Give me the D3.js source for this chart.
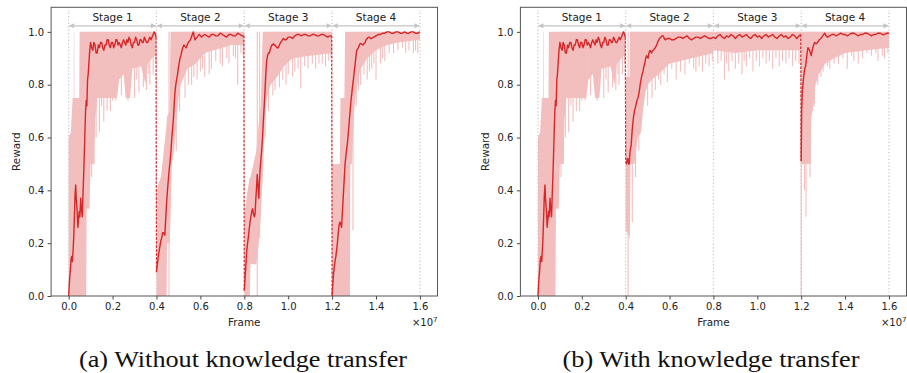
<!DOCTYPE html>
<html>
<head>
<meta charset="utf-8">
<script src="https://cdn.jsdelivr.net/npm/d3@7"></script>
<style>
  body { margin: 0; background: #fff; }
  svg { display: block; }
</style>
</head>
<body>
<svg id="fig" width="907" height="373"></svg>
<script>
// frames are in units of 1e7
const xTicks = [0, 0.2, 0.4, 0.6, 0.8, 1.0, 1.2, 1.4, 1.6];
const yTicks = [0, 0.2, 0.4, 0.6, 0.8, 1.0];
const stageBounds = [0, 0.4, 0.8, 1.2, 1.6];
const stageNames = ['Stage 1', 'Stage 2', 'Stage 3', 'Stage 4'];
const captions = ['(a) Without knowledge transfer', '(b) With knowledge transfer'];

// smoothed reward, stage 1 (same run in both panels)
const stage1Line = [[0.000,0.00],[0.004,0.06],[0.008,0.10],[0.011,0.14],[0.014,0.15],[0.017,0.13],[0.020,0.17],[0.023,0.22],[0.026,0.30],[0.029,0.38],[0.032,0.42],[0.035,0.36],[0.038,0.33],[0.042,0.26],[0.045,0.29],[0.048,0.32],[0.051,0.30],[0.055,0.37],[0.058,0.33],[0.062,0.30],[0.065,0.38],[0.068,0.45],[0.071,0.53],[0.074,0.62],[0.077,0.70],[0.080,0.74],[0.083,0.72],[0.086,0.82],[0.089,0.84],[0.092,0.88],[0.096,0.93],[0.100,0.96],[0.105,0.94],[0.110,0.93],[0.115,0.96],[0.120,0.95],[0.125,0.92],[0.130,0.92],[0.135,0.95],[0.140,0.94],[0.145,0.96],[0.150,0.96],[0.155,0.94],[0.160,0.93],[0.165,0.95],[0.170,0.95],[0.175,0.97],[0.180,0.97],[0.185,0.95],[0.190,0.94],[0.195,0.96],[0.200,0.96],[0.205,0.94],[0.210,0.95],[0.215,0.97],[0.220,0.97],[0.225,0.95],[0.230,0.96],[0.235,0.95],[0.240,0.94],[0.245,0.96],[0.250,0.97],[0.255,0.96],[0.260,0.95],[0.265,0.97],[0.270,0.96],[0.275,0.98],[0.280,0.97],[0.285,0.95],[0.290,0.94],[0.295,0.96],[0.300,0.96],[0.305,0.98],[0.310,0.97],[0.315,0.95],[0.320,0.95],[0.325,0.97],[0.330,0.97],[0.335,0.96],[0.340,0.96],[0.345,0.98],[0.350,0.97],[0.355,0.96],[0.360,0.96],[0.365,0.97],[0.370,0.98],[0.375,0.97],[0.380,0.98],[0.385,0.99],[0.390,1.00],[0.395,0.99],[0.398,0.98]];
const leftStage2Line = [[0.400,0.09],[0.404,0.12],[0.408,0.15],[0.412,0.17],[0.416,0.19],[0.420,0.21],[0.424,0.22],[0.428,0.24],[0.432,0.24],[0.438,0.23],[0.442,0.29],[0.446,0.35],[0.450,0.40],[0.454,0.44],[0.458,0.48],[0.461,0.50],[0.466,0.55],[0.470,0.60],[0.474,0.64],[0.477,0.67],[0.481,0.73],[0.484,0.77],[0.488,0.80],[0.492,0.82],[0.496,0.84],[0.499,0.86],[0.503,0.88],[0.507,0.90],[0.511,0.91],[0.515,0.925],[0.520,0.94],[0.525,0.95],[0.530,0.945],[0.535,0.94],[0.540,0.95],[0.545,0.96],[0.550,0.965],[0.555,0.97],[0.561,0.985],[0.568,1.00],[0.572,0.98],[0.576,0.97],[0.580,0.975],[0.585,0.98],[0.590,0.985],[0.595,0.99],[0.600,0.985],[0.605,0.98],[0.610,0.985],[0.620,0.99],[0.630,0.985],[0.640,0.98],[0.650,0.99],[0.660,0.99],[0.670,0.985],[0.680,0.985],[0.690,0.995],[0.700,0.99],[0.710,0.985],[0.720,0.98],[0.730,0.99],[0.740,0.99],[0.750,0.985],[0.760,0.985],[0.770,0.995],[0.780,0.99],[0.790,0.985],[0.798,0.985]];
const leftStage3Line = [[0.800,0.02],[0.803,0.06],[0.806,0.10],[0.809,0.14],[0.811,0.17],[0.815,0.20],[0.818,0.22],[0.822,0.25],[0.826,0.28],[0.830,0.30],[0.834,0.32],[0.838,0.33],[0.842,0.31],[0.846,0.30],[0.849,0.31],[0.852,0.36],[0.855,0.40],[0.859,0.46],[0.862,0.42],[0.866,0.37],[0.869,0.43],[0.872,0.48],[0.876,0.52],[0.879,0.55],[0.883,0.60],[0.886,0.65],[0.890,0.71],[0.894,0.77],[0.898,0.84],[0.902,0.89],[0.906,0.91],[0.910,0.92],[0.914,0.92],[0.917,0.93],[0.921,0.94],[0.925,0.95],[0.929,0.95],[0.932,0.955],[0.936,0.95],[0.940,0.95],[0.944,0.945],[0.948,0.94],[0.952,0.94],[0.955,0.94],[0.960,0.95],[0.965,0.96],[0.970,0.965],[0.978,0.975],[0.984,0.97],[0.990,0.97],[0.995,0.975],[1.000,0.98],[1.010,0.98],[1.020,0.975],[1.030,0.985],[1.040,0.99],[1.050,0.99],[1.060,0.985],[1.070,0.99],[1.080,0.99],[1.090,0.985],[1.100,0.985],[1.110,0.99],[1.120,0.99],[1.130,0.985],[1.140,0.985],[1.150,0.99],[1.160,0.99],[1.170,0.985],[1.180,0.98],[1.190,0.985],[1.198,0.985]];
const leftStage4Line = [[1.200,0.00],[1.203,0.04],[1.206,0.08],[1.210,0.11],[1.213,0.13],[1.217,0.15],[1.220,0.17],[1.224,0.20],[1.228,0.24],[1.232,0.27],[1.236,0.28],[1.240,0.27],[1.243,0.26],[1.247,0.32],[1.251,0.38],[1.255,0.44],[1.259,0.50],[1.264,0.54],[1.270,0.58],[1.276,0.64],[1.282,0.70],[1.286,0.74],[1.290,0.77],[1.294,0.80],[1.297,0.82],[1.301,0.85],[1.305,0.88],[1.309,0.91],[1.312,0.93],[1.316,0.935],[1.320,0.94],[1.324,0.95],[1.327,0.955],[1.333,0.955],[1.340,0.95],[1.345,0.955],[1.350,0.96],[1.355,0.97],[1.360,0.975],[1.365,0.98],[1.370,0.98],[1.375,0.975],[1.380,0.975],[1.390,0.98],[1.400,0.985],[1.410,0.99],[1.420,0.99],[1.430,0.995],[1.440,0.995],[1.450,1.00],[1.460,1.00],[1.470,0.995],[1.480,0.995],[1.490,1.00],[1.500,1.00],[1.510,0.995],[1.520,0.995],[1.530,1.00],[1.540,0.995],[1.550,0.995],[1.560,1.00],[1.570,1.00],[1.580,0.995],[1.590,0.995],[1.600,1.00]];
const rightStage2Line = [[0.400,0.51],[0.404,0.50],[0.407,0.52],[0.410,0.52],[0.413,0.50],[0.416,0.50],[0.420,0.55],[0.425,0.57],[0.428,0.61],[0.432,0.65],[0.436,0.68],[0.440,0.70],[0.446,0.72],[0.451,0.74],[0.456,0.75],[0.461,0.77],[0.466,0.80],[0.470,0.82],[0.475,0.84],[0.479,0.85],[0.483,0.87],[0.487,0.88],[0.491,0.90],[0.495,0.91],[0.499,0.905],[0.502,0.90],[0.506,0.92],[0.510,0.93],[0.514,0.925],[0.518,0.92],[0.522,0.93],[0.525,0.93],[0.530,0.935],[0.535,0.94],[0.541,0.95],[0.548,0.965],[0.554,0.975],[0.560,0.98],[0.566,0.985],[0.571,0.985],[0.576,0.975],[0.580,0.97],[0.590,0.975],[0.600,0.975],[0.610,0.97],[0.620,0.97],[0.630,0.975],[0.640,0.98],[0.650,0.98],[0.660,0.975],[0.670,0.98],[0.680,0.985],[0.690,0.975],[0.700,0.97],[0.710,0.975],[0.720,0.98],[0.730,0.98],[0.740,0.975],[0.750,0.98],[0.760,0.985],[0.770,0.98],[0.780,0.975],[0.790,0.975],[0.800,0.98]];
const rightStage3Line = [[0.80,0.98],[0.81,0.975],[0.82,0.985],[0.83,0.99],[0.84,0.98],[0.85,0.975],[0.86,0.985],[0.87,0.98],[0.88,0.99],[0.89,0.985],[0.90,0.975],[0.91,0.985],[0.92,0.99],[0.93,0.98],[0.94,0.985],[0.95,0.99],[0.96,0.98],[0.97,0.975],[0.98,0.985],[0.99,0.99],[1.00,0.98],[1.01,0.985],[1.02,0.975],[1.03,0.985],[1.04,0.99],[1.05,0.98],[1.06,0.985],[1.07,0.99],[1.08,0.98],[1.09,0.975],[1.10,0.985],[1.11,0.99],[1.12,0.98],[1.13,0.985],[1.14,0.975],[1.15,0.98],[1.16,0.99],[1.17,0.985],[1.18,0.975],[1.19,0.985],[1.198,0.99]];
const rightStage4Line = [[1.200,0.51],[1.202,0.70],[1.205,0.77],[1.210,0.82],[1.216,0.86],[1.220,0.87],[1.223,0.89],[1.227,0.92],[1.231,0.94],[1.235,0.935],[1.238,0.93],[1.242,0.92],[1.246,0.91],[1.250,0.93],[1.253,0.94],[1.257,0.95],[1.261,0.96],[1.268,0.955],[1.275,0.96],[1.282,0.97],[1.290,0.975],[1.298,0.985],[1.307,0.995],[1.313,0.985],[1.320,0.98],[1.330,0.985],[1.340,0.99],[1.350,0.99],[1.360,0.985],[1.370,0.99],[1.380,0.995],[1.390,0.99],[1.400,0.99],[1.410,0.985],[1.420,0.99],[1.430,0.995],[1.440,0.995],[1.450,0.99],[1.460,0.985],[1.470,0.99],[1.480,0.99],[1.490,0.995],[1.500,0.995],[1.510,0.99],[1.520,0.985],[1.530,0.99],[1.540,0.99],[1.550,0.995],[1.560,0.995],[1.570,0.99],[1.580,0.99],[1.590,0.995],[1.600,0.995]];

// raw-reward envelope per stage: [frame, low, high]
const stage1Band = [[0.000,0,0.60],[0.010,0,0.62],[0.018,0,0.75],[0.023,0,0.75],[0.0235,0,1.0],[0.0255,0,1.0],[0.026,0,0.75],[0.048,0,0.75],[0.050,0,1.0],[0.080,0,1.0],[0.082,0.33,1.0],[0.095,0.33,1.0],[0.100,0.50,1.0],[0.118,0.50,1.0],[0.120,0.66,1.0],[0.130,0.75,1.0],[0.220,0.75,1.0],[0.230,0.82,1.0],[0.250,0.84,1.0],[0.260,0.75,1.0],[0.280,0.75,1.0],[0.290,0.86,1.0],[0.330,0.87,1.0],[0.350,0.80,1.0],[0.360,0.88,1.0],[0.390,0.91,1.0],[0.400,0.90,1.0]];
const leftStage2Band = [[0.400,0,0.40],[0.420,0,0.45],[0.440,0,0.60],[0.446,0,0.65],[0.448,0.20,0.68],[0.460,0.20,0.70],[0.464,0.30,1.0],[0.470,0.50,1.0],[0.480,0.55,1.0],[0.490,0.65,1.0],[0.500,0.75,1.0],[0.510,0.80,1.0],[0.540,0.86,1.0],[0.580,0.88,1.0],[0.620,0.92,1.0],[0.660,0.93,1.0],[0.700,0.94,1.0],[0.740,0.95,1.0],[0.800,0.95,1.0]];
const leftStage3Band = [[0.800,0,0.30],[0.815,0,0.40],[0.825,0,0.45],[0.828,0.12,0.45],[0.855,0.12,0.55],[0.865,0.19,0.65],[0.875,0.30,0.72],[0.884,0.45,1.0],[0.887,0.51,1.0],[0.894,0.66,1.0],[0.902,0.75,1.0],[0.920,0.80,1.0],[0.950,0.83,1.0],[0.980,0.87,1.0],[1.020,0.90,1.0],[1.100,0.91,1.0],[1.200,0.92,1.0]];
const leftStage4Band = [[1.200,0,0.50],[1.235,0,0.50],[1.238,0,0.75],[1.256,0,0.75],[1.259,0,1.0],[1.281,0,1.0],[1.283,0.50,1.0],[1.290,0.50,1.0],[1.300,0.70,1.0],[1.310,0.78,1.0],[1.330,0.86,1.0],[1.360,0.90,1.0],[1.400,0.93,1.0],[1.450,0.95,1.0],[1.500,0.96,1.0],[1.600,0.97,1.0]];
const rightStage2Band = [[0.400,0.25,0.83],[0.418,0.22,0.83],[0.419,0.22,1.0],[0.422,0.50,1.0],[0.440,0.50,1.0],[0.455,0.60,1.0],[0.470,0.62,1.0],[0.480,0.71,1.0],[0.490,0.77,1.0],[0.500,0.80,1.0],[0.520,0.82,1.0],[0.550,0.84,1.0],[0.600,0.88,1.0],[0.650,0.89,1.0],[0.700,0.90,1.0],[0.750,0.91,1.0],[0.800,0.92,1.0]];
const rightStage3Band = [[0.800,0.93,1.0],[0.900,0.92,1.0],[1.000,0.93,1.0],[1.100,0.93,1.0],[1.200,0.93,1.0]];
const rightStage4Band = [[1.200,0.50,1.0],[1.243,0.50,1.0],[1.246,0.67,1.0],[1.260,0.75,1.0],[1.265,0.80,1.0],[1.280,0.84,1.0],[1.310,0.88,1.0],[1.350,0.90,1.0],[1.400,0.92,1.0],[1.500,0.93,1.0],[1.600,0.94,1.0]];

// single raw episodes dipping below the envelope: [frame, reward]
const stage1Spikes = [[0.105,0.45],[0.110,0.55],[0.125,0.60],[0.140,0.62],[0.150,0.72],[0.160,0.66],[0.175,0.70],[0.190,0.70],[0.200,0.74],[0.215,0.74],[0.240,0.76],[0.270,0.74],[0.300,0.75],[0.310,0.82],[0.320,0.77],[0.340,0.79],[0.355,0.78],[0.365,0.84],[0.370,0.80],[0.385,0.84],[0.395,0.88]];
const leftStage2Spikes = [[0.457,0.0],[0.490,0.55],[0.505,0.70],[0.530,0.75],[0.545,0.80],[0.560,0.80],[0.570,0.83],[0.585,0.82],[0.600,0.85],[0.610,0.86],[0.620,0.83],[0.640,0.84],[0.650,0.86],[0.670,0.89],[0.690,0.88],[0.700,0.87],[0.720,0.90],[0.730,0.88],[0.750,0.91],[0.760,0.90],[0.770,0.80],[0.785,0.92],[0.795,0.91]];
const leftStage3Spikes = [[0.859,0.0],[0.870,0.22],[0.895,0.60],[0.910,0.70],[0.930,0.76],[0.940,0.78],[0.960,0.79],[0.975,0.82],[0.990,0.80],[1.000,0.84],[1.020,0.83],[1.030,0.85],[1.045,0.86],[1.057,0.786],[1.075,0.87],[1.090,0.86],[1.110,0.88],[1.125,0.86],[1.140,0.88],[1.155,0.88],[1.170,0.87],[1.185,0.89],[1.195,0.90]];
const leftStage4Spikes = [[1.295,0.25],[1.310,0.72],[1.320,0.78],[1.330,0.80],[1.345,0.84],[1.360,0.82],[1.370,0.85],[1.380,0.86],[1.390,0.88],[1.400,0.82],[1.420,0.88],[1.430,0.90],[1.440,0.89],[1.460,0.92],[1.480,0.92],[1.500,0.93],[1.520,0.94],[1.535,0.92],[1.550,0.93],[1.570,0.92],[1.580,0.93],[1.590,0.92]];
const rightStage2Spikes = [[0.411,0.0],[0.430,0.28],[0.445,0.45],[0.460,0.55],[0.500,0.72],[0.520,0.75],[0.535,0.78],[0.550,0.82],[0.560,0.80],[0.575,0.84],[0.590,0.81],[0.610,0.86],[0.630,0.82],[0.650,0.85],[0.670,0.84],[0.690,0.88],[0.710,0.86],[0.720,0.85],[0.735,0.87],[0.750,0.85],[0.765,0.88],[0.780,0.87],[0.795,0.89]];
const rightStage3Spikes = [[0.820,0.88],[0.835,0.89],[0.850,0.82],[0.860,0.88],[0.870,0.85],[0.885,0.89],[0.900,0.86],[0.915,0.88],[0.930,0.84],[0.940,0.89],[0.950,0.87],[0.965,0.90],[0.980,0.85],[0.995,0.89],[1.010,0.87],[1.025,0.90],[1.040,0.88],[1.055,0.89],[1.070,0.86],[1.085,0.90],[1.100,0.87],[1.115,0.89],[1.130,0.88],[1.145,0.90],[1.160,0.87],[1.175,0.89],[1.190,0.88]];
const rightStage4Spikes = [[1.200,0.0],[1.215,0.40],[1.222,0.30],[1.232,0.50],[1.240,0.45],[1.250,0.70],[1.260,0.72],[1.275,0.80],[1.290,0.83],[1.300,0.85],[1.320,0.87],[1.330,0.86],[1.350,0.88],[1.370,0.88],[1.390,0.90],[1.410,0.86],[1.430,0.91],[1.440,0.89],[1.460,0.88],[1.480,0.90],[1.500,0.92],[1.520,0.91],[1.540,0.92],[1.550,0.89],[1.570,0.91],[1.580,0.90],[1.595,0.92]];

const RED = '#d62728';
const PINK = '#f3bebe';
const GRID = '#c4c4c4';
const FONT = '"DejaVu Sans", sans-serif';

const panels = [
  {
    left: 51.1, right: 437.5, caption: captions[0], capX: 243, capW: 328,
    lines: [stage1Line, leftStage2Line, leftStage3Line, leftStage4Line],
    bands: [stage1Band, leftStage2Band, leftStage3Band, leftStage4Band],
    spikes: [stage1Spikes, leftStage2Spikes, leftStage3Spikes, leftStage4Spikes]
  },
  {
    left: 520.4, right: 906.5, caption: captions[1], capX: 711, capW: 297,
    lines: [stage1Line, rightStage2Line, rightStage3Line, rightStage4Line],
    bands: [stage1Band, rightStage2Band, rightStage3Band, rightStage4Band],
    spikes: [stage1Spikes, rightStage2Spikes, rightStage3Spikes, rightStage4Spikes]
  }
];

const svg = d3.select('#fig');
const plotTop = 7.3, plotBottom = 296;
const y = d3.scaleLinear().domain([0, 1.093]).range([plotBottom, plotTop]);

svg.append('defs').append('marker')
  .attr('id', 'head')
  .attr('viewBox', '0 0 10 10')
  .attr('refX', 10).attr('refY', 5)
  .attr('markerWidth', 6).attr('markerHeight', 5)
  .attr('markerUnits', 'userSpaceOnUse')
  .attr('orient', 'auto-start-reverse')
  .append('path').attr('d', 'M0,0L10,5L0,10Z').attr('fill', GRID);

panels.forEach(drawPanel);

function drawPanel(p) {
  const x = d3.scaleLinear().domain([-0.08, 1.68]).range([p.left, p.right]);
  const g = svg.append('g');

  // raw reward envelope
  const area = d3.area().x(d => x(d[0])).y0(d => y(d[1])).y1(d => y(d[2]));
  p.bands.forEach(b => g.append('path').attr('d', area(b)).attr('fill', PINK));
  p.spikes.forEach(list => {
    g.selectAll(null).data(list).enter().append('line')
      .attr('x1', d => x(d[0])).attr('x2', d => x(d[0]))
      .attr('y1', y(1.0)).attr('y2', d => y(d[1]))
      .attr('stroke', PINK).attr('stroke-width', 1.1);
  });

  // stage separators
  g.selectAll(null).data(stageBounds).enter().append('line')
    .attr('x1', d => x(d)).attr('x2', d => x(d))
    .attr('y1', y(0)).attr('y2', y(1.083))
    .attr('stroke', GRID).attr('stroke-width', 1.2)
    .attr('stroke-dasharray', '1.2,2.2');

  // dashed jump between consecutive stages
  for (let i = 0; i < p.lines.length - 1; i++) {
    const a = p.lines[i][p.lines[i].length - 1];
    const b = p.lines[i + 1][0];
    g.append('path')
      .attr('d', d3.line()([[x(a[0]), y(a[1])], [x(b[0]), y(b[1])]]))
      .attr('stroke', RED).attr('stroke-width', 1.2)
      .attr('stroke-dasharray', '2.5,1.5').attr('fill', 'none');
  }

  // smoothed reward
  const line = d3.line().x(d => x(d[0])).y(d => y(d[1]));
  p.lines.forEach(l => g.append('path').attr('d', line(l))
    .attr('fill', 'none').attr('stroke', RED).attr('stroke-width', 1.4)
    .attr('stroke-linejoin', 'round'));

  // stage arrows + names
  stageNames.forEach((name, i) => {
    const x0 = x(stageBounds[i]), x1 = x(stageBounds[i + 1]);
    g.append('line')
      .attr('x1', x0 + 0.5).attr('x2', x1 - 0.5)
      .attr('y1', y(1.023)).attr('y2', y(1.023))
      .attr('stroke', GRID).attr('stroke-width', 1.2)
      .attr('marker-start', 'url(#head)').attr('marker-end', 'url(#head)');
    g.append('text')
      .attr('x', (x0 + x1) / 2).attr('y', y(1.057))
      .attr('text-anchor', 'middle').attr('dominant-baseline', 'central')
      .attr('font-family', FONT).attr('font-size', 10.5).attr('fill', '#222')
      .text(name);
  });

  // axes
  const xAxis = d3.axisBottom(x).tickValues(xTicks).tickFormat(d3.format('.1f'))
    .tickSize(3.5).tickPadding(3.5);
  const yAxis = d3.axisLeft(y).tickValues(yTicks).tickFormat(d3.format('.1f'))
    .tickSize(3.5).tickPadding(3.5);
  const gx = g.append('g').attr('transform', `translate(0,${plotBottom})`).call(xAxis);
  const gy = g.append('g').attr('transform', `translate(${p.left},0)`).call(yAxis);
  [gx, gy].forEach(a => {
    a.select('.domain').remove();
    a.selectAll('line').attr('stroke', '#333').attr('stroke-width', 0.9);
    a.selectAll('text').attr('font-family', FONT).attr('font-size', 10).attr('fill', '#222');
  });

  g.append('rect')
    .attr('x', p.left).attr('y', plotTop)
    .attr('width', p.right - p.left).attr('height', plotBottom - plotTop)
    .attr('fill', 'none').attr('stroke', '#555').attr('stroke-width', 1);

  g.append('text')
    .attr('transform', `translate(${p.left - 35},${(plotTop + plotBottom) / 2}) rotate(-90)`)
    .attr('text-anchor', 'middle').attr('dominant-baseline', 'central')
    .attr('font-family', FONT).attr('font-size', 10.4).attr('fill', '#222')
    .text('Reward');
  g.append('text')
    .attr('x', (p.left + p.right) / 2).attr('y', 322)
    .attr('text-anchor', 'middle').attr('dominant-baseline', 'central')
    .attr('font-family', FONT).attr('font-size', 10.4).attr('fill', '#222')
    .text('Frame');
  const off = g.append('text')
    .attr('x', p.right).attr('y', 326)
    .attr('text-anchor', 'end')
    .attr('font-family', FONT).attr('font-size', 10).attr('fill', '#222');
  off.append('tspan').text('×10');
  off.append('tspan').attr('dy', -4).attr('font-size', 7).text('7');

  svg.append('text')
    .attr('x', p.capX).attr('y', 367)
    .attr('text-anchor', 'middle')
    .attr('font-family', '"Liberation Serif", "DejaVu Serif", serif')
    .attr('font-size', 24).attr('fill', '#111')
    .attr('textLength', p.capW).attr('lengthAdjust', 'spacingAndGlyphs')
    .text(p.caption);
}
</script>
</body>
</html>
